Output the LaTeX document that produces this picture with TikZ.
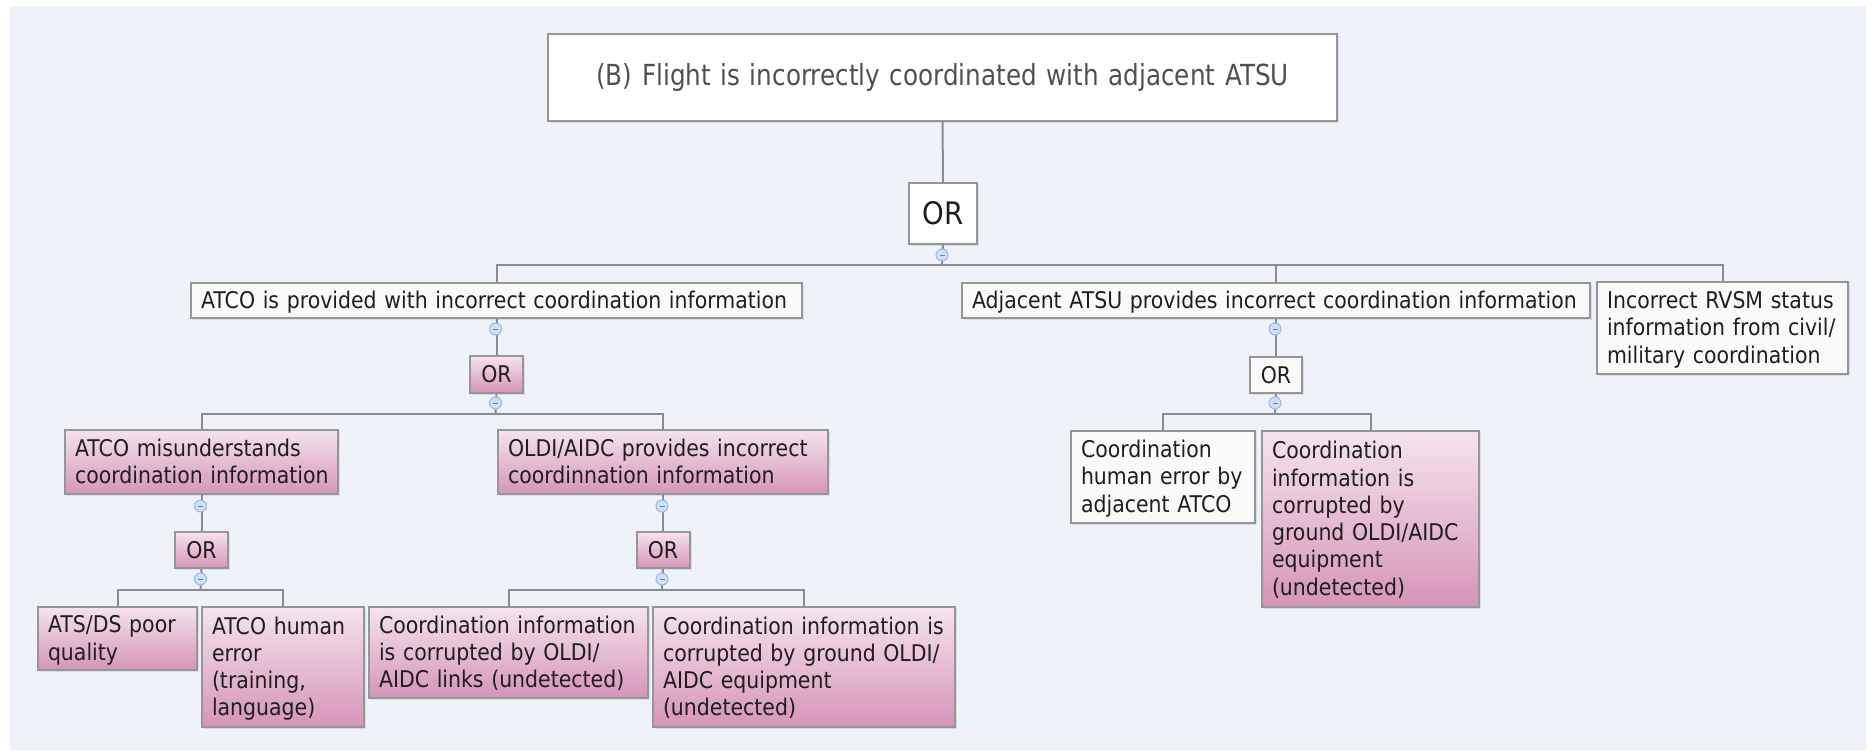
\documentclass[tikz,border=0pt]{standalone}
\usepackage{fontspec}
\setmainfont{DejaVu Sans}[FakeStretch=0.89]
\newfontfamily\headfont{DejaVu Sans}[FakeStretch=0.85]
\usetikzlibrary{shadows}
\pgfdeclarelayer{bg}
\pgfdeclarelayer{lines}
\pgfsetlayers{bg,lines,main}

\definecolor{canvas}{RGB}{239,242,249}
\definecolor{edge}{RGB}{138,140,145}
\definecolor{boxline}{RGB}{150,150,152}
\definecolor{whitefill}{RGB}{250,250,250}
\definecolor{pinktop}{RGB}{245,228,237}
\definecolor{pinkbot}{RGB}{213,148,185}
\definecolor{knobfill}{RGB}{206,224,248}
\definecolor{knobline}{RGB}{150,186,236}
\definecolor{ink}{RGB}{30,30,30}
\definecolor{titleink}{RGB}{80,80,80}

% set the given lines flush left, never rewrapped, ink nudged slightly down
\newcommand\textlines[1]{\raisebox{-2.5pt}[\height][\depth]{\begin{tabular}{@{}l@{}}#1\end{tabular}}}

\tikzset{
  base/.style={draw=boxline, line width=2pt, anchor=north west,
    inner xsep=10pt, inner ysep=0pt, align=left, text=ink,
    font=\fontsize{23}{27.3}\selectfont,
    drop shadow={opacity=0.18, shadow xshift=2pt, shadow yshift=-2pt}},
  plainbox/.style={base, fill=whitefill},
  pinkbox/.style={base, top color=pinktop, bottom color=pinkbot},
  gatebox/.style={align=center, inner xsep=0pt},
  knob/.style={circle, minimum size=12pt, inner sep=0pt, fill=knobfill,
    draw=knobline, line width=1pt,
    path picture={\draw[knobline!70!black, line width=0.8pt]
      ([xshift=-2.5pt]path picture bounding box.center) --
      ([xshift=2.5pt]path picture bounding box.center);}},
  conn/.style={draw=edge, line width=2pt},
}

\begin{document}
\begin{tikzpicture}[x=1pt, y=-1pt]
\useasboundingbox (0,0) rectangle (1874,752);
\begin{pgfonlayer}{bg}
  \fill[white] (0,0) rectangle (1874,752);
  \fill[canvas] (10,6) rectangle (1866,750);
\end{pgfonlayer}

% top event
\node[plainbox, fill=white, align=center, text=titleink, inner xsep=0pt,
  font=\headfont\fontsize{29}{34}\selectfont,
  minimum width=789pt, minimum height=87pt, text width=789pt] (top) at (547,33)
  {(B) Flight is incorrectly coordinated with adjacent ATSU};
\node[plainbox, fill=white, gatebox, font=\fontsize{31}{34}\selectfont,
  minimum width=68pt, minimum height=61pt, text width=68pt] (orTop) at (908,182) {OR};
\node[knob] (kTop) at (942,255) {};

% first level
\node[plainbox, minimum width=611pt, minimum height=35pt, text width=591pt] (atco) at (190,282)
  {\textlines{ATCO is provided with incorrect coordination information}};
\node[plainbox, minimum width=628pt, minimum height=35pt, text width=608pt] (adj) at (961,282)
  {\textlines{Adjacent ATSU provides incorrect coordination information}};
\node[plainbox, minimum width=251pt, minimum height=92pt, text width=231pt] (rvsm) at (1596,281)
  {\textlines{Incorrect RVSM status\\information from civil/\\military coordination}};

% left branch
\node[knob] (kA) at (495.5,329) {};
\node[pinkbox, gatebox, minimum width=53pt, minimum height=37pt, text width=53pt] (orA) at (469,355) {OR};
\node[knob] (kA2) at (495.5,403) {};

\node[pinkbox, minimum width=273pt, minimum height=64pt, text width=253pt] (misund) at (64,429)
  {\textlines{ATCO misunderstands\\coordination information}};
\node[pinkbox, minimum width=330pt, minimum height=64pt, text width=310pt] (oldi) at (497,429)
  {\textlines{OLDI/AIDC provides incorrect\\coordinnation information}};

\node[knob] (kM) at (200.5,506) {};
\node[pinkbox, gatebox, minimum width=53pt, minimum height=36pt, text width=53pt] (orM) at (174,531) {OR};
\node[knob] (kM2) at (200.5,579) {};

\node[knob] (kO) at (662,506) {};
\node[pinkbox, gatebox, minimum width=53pt, minimum height=36pt, text width=53pt] (orO) at (635.5,531) {OR};
\node[knob] (kO2) at (662,579) {};

\node[pinkbox, minimum width=159pt, minimum height=63pt, text width=139pt] (atsds) at (37,606)
  {\textlines{ATS/DS poor\\quality}};
\node[pinkbox, minimum width=162pt, minimum height=120pt, text width=142pt] (human) at (201,606)
  {\textlines{ATCO human\\error\\(training,\\language)}};
\node[pinkbox, minimum width=279pt, minimum height=91pt, text width=259pt] (links) at (368,606)
  {\textlines{Coordination information\\is corrupted by OLDI/\\AIDC links (undetected)}};
\node[pinkbox, minimum width=302pt, minimum height=120pt, text width=282pt] (ground) at (652,606)
  {\textlines{Coordination information is\\corrupted by ground OLDI/\\AIDC equipment\\(undetected)}};

% right branch
\node[knob] (kB) at (1275,329) {};
\node[plainbox, gatebox, minimum width=52pt, minimum height=36pt, text width=52pt] (orB) at (1249,356) {OR};
\node[knob] (kB2) at (1275,403) {};

\node[plainbox, minimum width=184pt, minimum height=92pt, text width=164pt] (herr) at (1070,430)
  {\textlines{Coordination\\human error by\\adjacent ATCO}};
\node[pinkbox, minimum width=217pt, minimum height=176pt, text width=197pt] (cground) at (1261,430)
  {\textlines{Coordination\\information is\\corrupted by\\ground OLDI/AIDC\\equipment\\(undetected)}};

% connectors
\begin{pgfonlayer}{lines}
  \coordinate (jTop) at (942,265);
  \draw[conn] (top.south) -- (orTop.north);
  \draw[conn] (orTop.south) -- (jTop);
  \draw[conn] (jTop) -| (atco.north);
  \draw[conn] (jTop) -| (adj.north);
  \draw[conn] (jTop) -| (rvsm.north);

  \coordinate (jA) at (495.5,414);
  \draw[conn] (atco.south) -- (orA.north);
  \draw[conn] (orA.south) -- (jA);
  \draw[conn] (jA) -| (misund.north);
  \draw[conn] (jA) -| (oldi.north);

  \coordinate (jM) at (200.5,590);
  \draw[conn] (misund.south) -- (orM.north);
  \draw[conn] (orM.south) -- (jM);
  \draw[conn] (jM) -| (atsds.north);
  \draw[conn] (jM) -| (human.north);

  \coordinate (jO) at (662,590);
  \draw[conn] (oldi.south) -- (orO.north);
  \draw[conn] (orO.south) -- (jO);
  \draw[conn] (jO) -| (links.north);
  \draw[conn] (jO) -| (ground.north);

  \coordinate (jB) at (1275,414);
  \draw[conn] (adj.south) -- (orB.north);
  \draw[conn] (orB.south) -- (jB);
  \draw[conn] (jB) -| (herr.north);
  \draw[conn] (jB) -| (cground.north);
\end{pgfonlayer}
\end{tikzpicture}
\end{document}
